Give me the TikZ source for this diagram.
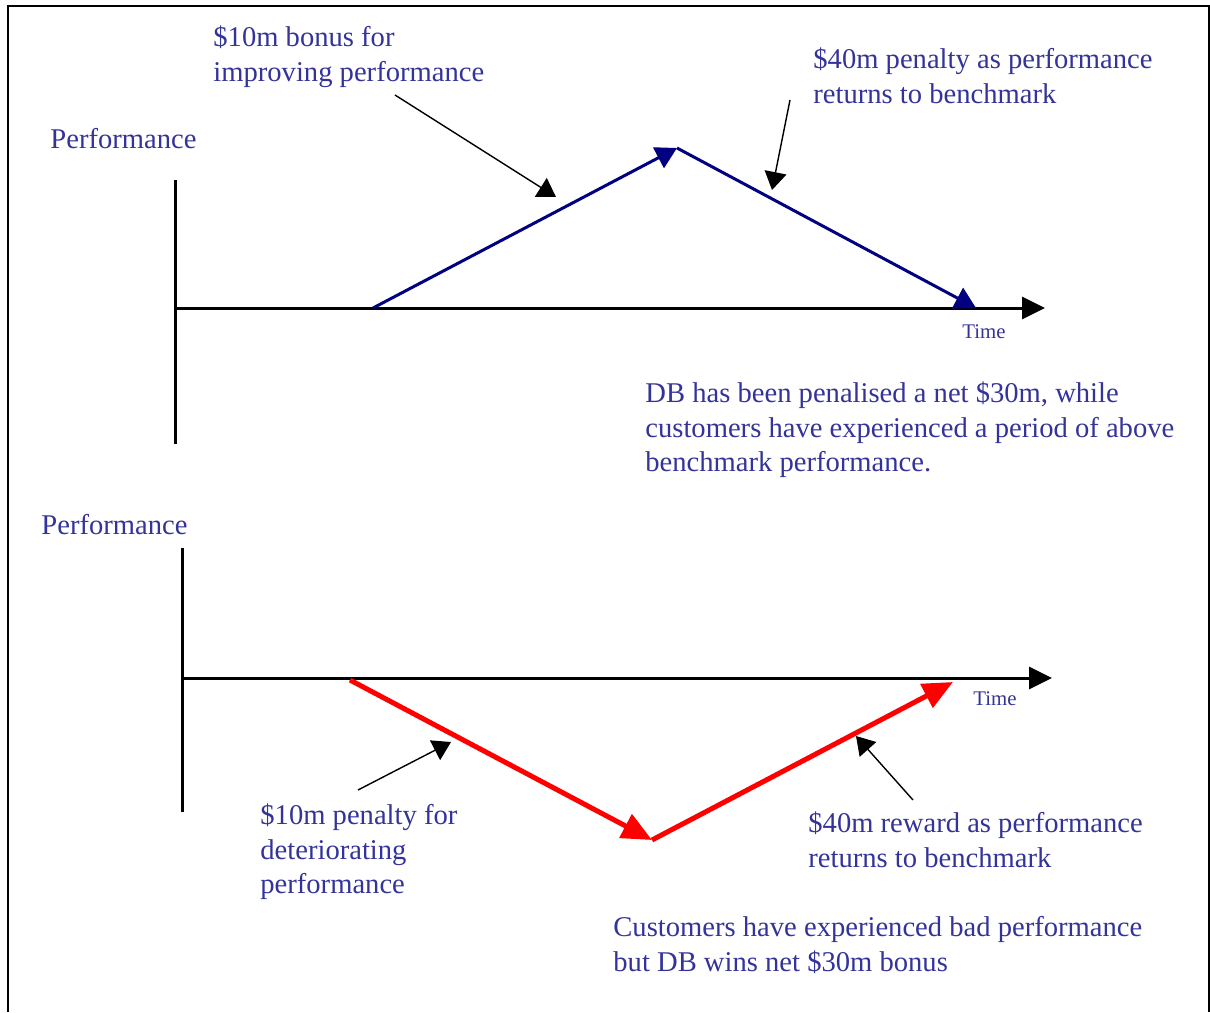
\documentclass[tikz,border=0pt]{standalone}
\usepackage{fontspec}
\setmainfont{Liberation Serif}
\usetikzlibrary{arrows.meta}

\definecolor{txtblue}{RGB}{51,51,153}
\definecolor{navyline}{RGB}{0,0,128}

\tikzset{
  lbl/.style={anchor=west, inner sep=0pt, align=left, text=txtblue, font=\fontsize{14.3}{17.3}\selectfont},
  timelbl/.style={inner sep=0pt, text=txtblue, font=\fontsize{10.4}{12}\selectfont},
  axis/.style={line width=1.5pt},
  axisarrow/.style={axis, -{Triangle[length=11.5pt,width=11pt]}},
  upline/.style={navyline, line width=1.5pt, -{Triangle[length=10.5pt,width=11.5pt]}},
  downline/.style={red, line width=2.5pt, -{Triangle[length=15pt,width=13pt]}},
  pointer/.style={line width=0.7pt, -{Triangle[length=9pt,width=11pt]}}
}

\begin{document}
\begin{tikzpicture}[x=0.5pt,y=0.5pt,yscale=-1]
\useasboundingbox (0,0) rectangle (1210,1012);

%Frame
\draw [line width=1pt] (8,1012) -- (8,6) -- (1209,6) -- (1209,1012);

%%% upper graph
\coordinate (o1) at (175,308);
\coordinate (ytop1) at (175,180);
\coordinate (ybot1) at (175,444);
\coordinate (xend1) at (1045,308);
\coordinate (start1) at (373,308);
\coordinate (peak1) at (677,148);
\coordinate (back1) at (976,308);
\coordinate (tailA) at (395,95);
\coordinate (headA) at (556,197);
\coordinate (tailB) at (790,100);
\coordinate (headB) at (772,190);

%Axis
\draw [axis] (ybot1) -- (ytop1);
\draw [axisarrow] (o1) -- (xend1);
%Straight Lines
\draw [upline] (start1) -- (peak1);
\draw [upline] (peak1) -- (back1);
%Pointers
\draw [pointer] (tailA) -- (headA);
\draw [pointer] (tailB) -- (headB);

% Text Node
\node [lbl] (perf1) at (50,139) {Performance};
% Text Node
\node [timelbl] (time1) at (984,332) {Time};
% Text Node
\node [lbl] (bonus) at (213,57) {\$10m bonus for\\improving performance};
% Text Node
\node [lbl] (penalty) at (813,76) {\$40m penalty as performance\\returns to benchmark};
% Text Node
\node [lbl] (netpen) at (645,430) {DB has been penalised a net \$30m, while\\customers have experienced a period of above\\benchmark performance.};

%%% lower graph
\coordinate (o2) at (182,678);
\coordinate (ytop2) at (182,548);
\coordinate (ybot2) at (182,812);
\coordinate (xend2) at (1052,678);
\coordinate (start2) at (350,680);
\coordinate (dip2) at (652,840);
\coordinate (back2) at (953,682);
\coordinate (tailC) at (358,790);
\coordinate (headC) at (451,742);
\coordinate (tailD) at (913,800);
\coordinate (headD) at (856,736);

%Axis
\draw [axis] (ybot2) -- (ytop2);
\draw [axisarrow] (o2) -- (xend2);
%Straight Lines
\draw [downline] (start2) -- (dip2);
\draw [downline] (dip2) -- (back2);
%Pointers
\draw [pointer] (tailC) -- (headC);
\draw [pointer] (tailD) -- (headD);

% Text Node
\node [lbl] (perf2) at (41,525) {Performance};
% Text Node
\node [timelbl] (time2) at (995,699) {Time};
% Text Node
\node [lbl] (worse) at (260,852) {\$10m penalty for\\deteriorating\\performance};
% Text Node
\node [lbl] (reward) at (808,840) {\$40m reward as performance\\returns to benchmark};
% Text Node
\node [lbl] (netbon) at (613,945) {Customers have experienced bad performance\\but DB wins net \$30m bonus};

\end{tikzpicture}
\end{document}
